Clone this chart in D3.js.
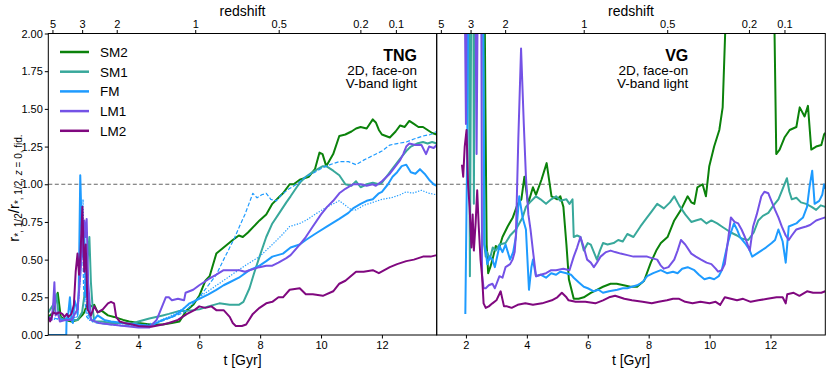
<!DOCTYPE html>
<html><head><meta charset="utf-8">
<script src="https://cdn.jsdelivr.net/npm/d3@7"></script>
<style>body{margin:0;background:#fff} text{font-family:"Liberation Sans",Arial,sans-serif}</style>
</head><body><svg id="c" width="830" height="372"></svg>
<script>
// ---------- data ----------
const xDomain=[1.04,13.8];
const yTicks=[0,0.25,0.5,0.75,1.0,1.25,1.5,1.75,2.0];
const tTicks=[2,4,6,8,10,12];
const zTicks=[5,3,2,1,0.5,0.2,0.1];
const zTickLabels=["5","3","2","1","0.5","0.2","0.1"];
const seriesNames=["SM2","SM1","FM","LM1","LM2"];
const seriesColors=["#0b820b","#38a89b","#1e9bff","#7452e6","#80087f"];
const panelNames=["TNG","VG"];

const tngSM2=[[1.04,0.12],[1.2,0.15],[1.35,0.28],[1.45,0.12],[1.6,0.1],[1.8,0.09],[2.0,0.1],[2.15,0.13],[2.22,0.15],[2.33,0.21],[2.44,0.19],[2.55,0.2],[2.66,0.15],[2.8,0.16],[3.0,0.13],[3.2,0.12],[3.5,0.1],[3.7,0.09],[4.0,0.08],[4.4,0.07],[4.8,0.07],[5.1,0.08],[5.35,0.09],[5.57,0.16],[5.8,0.2],[6.0,0.26],[6.2,0.36],[6.34,0.39],[6.56,0.54],[6.8,0.58],[7.1,0.63],[7.3,0.66],[7.43,0.65],[7.6,0.68],[7.98,0.76],[8.2,0.8],[8.4,0.87],[8.6,0.91],[8.75,0.94],[8.97,1.0],[9.1,1.0],[9.3,1.03],[9.45,1.04],[9.6,1.05],[9.8,1.1],[9.95,1.21],[10.05,1.2],[10.17,1.12],[10.4,1.2],[10.6,1.32],[10.8,1.33],[11.0,1.35],[11.15,1.37],[11.3,1.38],[11.5,1.37],[11.7,1.43],[11.8,1.41],[11.9,1.36],[12.0,1.33],[12.26,1.31],[12.45,1.35],[12.6,1.39],[12.75,1.38],[12.9,1.42],[13.05,1.4],[13.2,1.38],[13.35,1.38],[13.5,1.36],[13.65,1.34],[13.8,1.33]];
const tngSM1=[[1.04,0.15],[1.2,0.2],[1.31,0.27],[1.38,0.13],[1.5,0.1],[1.7,0.11],[1.9,0.1],[2.0,0.1],[2.15,0.15],[2.25,0.3],[2.33,0.5],[2.39,0.65],[2.44,0.35],[2.5,0.17],[2.55,0.09],[2.8,0.09],[3.1,0.08],[3.5,0.08],[3.7,0.07],[4.0,0.09],[4.36,0.11],[4.8,0.13],[5.0,0.14],[5.35,0.16],[5.6,0.16],[6.0,0.17],[6.3,0.19],[6.66,0.21],[7.0,0.2],[7.3,0.2],[7.45,0.22],[7.65,0.31],[7.8,0.41],[7.98,0.52],[8.2,0.65],[8.4,0.74],[8.6,0.8],[8.86,0.88],[9.0,0.92],[9.2,0.98],[9.35,1.02],[9.5,1.05],[9.65,1.07],[9.8,1.09],[10.06,1.12],[10.17,1.12],[10.4,1.09],[10.6,1.06],[10.8,1.0],[11.0,0.99],[11.15,1.02],[11.3,0.98],[11.5,1.0],[11.7,1.01],[11.9,1.0],[12.0,1.01],[12.3,1.09],[12.6,1.17],[12.8,1.22],[12.95,1.25],[13.15,1.27],[13.35,1.28],[13.5,1.27],[13.65,1.28],[13.8,1.27]];
const tngFM=[[1.04,0],[1.63,0],[1.64,0.1],[1.7,0.15],[1.75,0.25],[1.8,0.1],[1.85,0.08],[1.9,0.23],[1.95,0.2],[2.0,0.14],[2.04,0.3],[2.06,0.6],[2.09,1.06],[2.13,0.76],[2.16,0.52],[2.22,0.7],[2.27,0.25],[2.33,0.35],[2.38,0.13],[2.5,0.09],[2.66,0.13],[2.88,0.1],[3.1,0.09],[3.5,0.08],[4.0,0.07],[4.36,0.06],[4.5,0.07],[4.8,0.1],[5.1,0.12],[5.35,0.15],[5.68,0.21],[6.0,0.24],[6.3,0.27],[6.56,0.3],[6.8,0.33],[7.0,0.35],[7.3,0.38],[7.65,0.43],[7.98,0.46],[8.2,0.49],[8.4,0.52],[8.75,0.54],[9.0,0.58],[9.3,0.6],[9.5,0.63],[9.8,0.67],[10.2,0.72],[10.6,0.77],[10.9,0.81],[11.05,0.84],[11.3,0.87],[11.5,0.89],[11.7,0.9],[11.9,0.94],[12.0,0.95],[12.2,1.0],[12.35,1.05],[12.5,1.08],[12.65,1.12],[12.8,1.13],[12.95,1.08],[13.1,1.07],[13.25,1.1],[13.4,1.07],[13.55,1.03],[13.7,1.0],[13.8,0.99]];
const tngFMdash=[[1.04,0.12],[1.5,0.1],[2.0,0.12],[2.1,0.5],[2.15,0.8],[2.2,0.3],[2.3,0.12],[2.6,0.08],[3.0,0.07],[3.5,0.06],[4.0,0.06],[4.5,0.07],[5.0,0.11],[5.5,0.15],[6.0,0.25],[6.3,0.33],[6.56,0.4],[6.8,0.5],[7.0,0.58],[7.15,0.64],[7.32,0.72],[7.5,0.8],[7.65,0.88],[7.76,0.94],[7.9,0.91],[8.05,0.93],[8.2,0.94],[8.35,0.9],[8.53,0.89],[8.7,0.93],[8.95,0.97],[9.2,1.0],[9.5,1.05],[9.8,1.08],[10.06,1.11],[10.3,1.13],[10.6,1.15],[10.9,1.15],[11.15,1.13],[11.4,1.16],[11.7,1.19],[12.0,1.22],[12.26,1.26],[12.5,1.27],[12.8,1.28],[13.05,1.3],[13.35,1.32],[13.6,1.33],[13.8,1.35]];
const tngFMdot=[[1.04,0.1],[2.0,0.12],[2.1,0.4],[2.18,0.9],[2.25,0.3],[2.35,0.1],[3.0,0.07],[4.0,0.06],[4.5,0.08],[5.0,0.12],[5.5,0.18],[6.0,0.25],[6.5,0.32],[7.0,0.39],[7.5,0.46],[7.98,0.52],[8.4,0.6],[8.75,0.67],[8.97,0.72],[9.3,0.74],[9.5,0.76],[9.8,0.8],[10.2,0.85],[10.6,0.89],[10.8,0.86],[11.0,0.83],[11.15,0.83],[11.4,0.86],[11.7,0.88],[12.0,0.9],[12.3,0.91],[12.6,0.93],[12.8,0.95],[13.0,0.94],[13.3,0.96],[13.55,0.94],[13.8,0.93]];
const tngLM1=[[1.04,0.12],[1.15,0.1],[1.2,0.2],[1.24,0.35],[1.28,0.13],[1.35,0.15],[1.42,0.09],[1.6,0.1],[1.8,0.1],[2.0,0.17],[2.1,0.42],[2.16,0.6],[2.22,0.76],[2.26,0.65],[2.3,0.77],[2.35,0.35],[2.44,0.1],[2.7,0.08],[3.1,0.07],[3.54,0.06],[4.0,0.05],[4.36,0.05],[4.6,0.1],[4.8,0.2],[4.9,0.25],[5.0,0.25],[5.1,0.23],[5.3,0.24],[5.5,0.23],[5.55,0.28],[5.8,0.3],[6.0,0.33],[6.3,0.37],[6.56,0.4],[6.8,0.43],[7.1,0.43],[7.32,0.43],[7.5,0.42],[7.65,0.43],[7.98,0.45],[8.2,0.46],[8.4,0.46],[8.6,0.48],[8.86,0.51],[9.0,0.53],[9.3,0.6],[9.5,0.65],[9.73,0.72],[10.0,0.8],[10.2,0.85],[10.4,0.89],[10.6,0.94],[10.8,0.97],[11.05,1.0],[11.3,1.0],[11.5,0.99],[11.7,1.0],[11.8,0.99],[12.0,1.02],[12.26,1.07],[12.45,1.12],[12.6,1.16],[12.7,1.2],[12.8,1.25],[12.9,1.27],[13.1,1.26],[13.3,1.26],[13.45,1.2],[13.55,1.25],[13.7,1.24],[13.8,1.26]];
const tngLM2=[[1.04,0.12],[1.1,0.09],[1.2,0.15],[1.3,0.14],[1.4,0.15],[1.5,0.14],[1.57,0.12],[1.65,0.14],[1.7,0.12],[1.8,0.14],[1.88,0.2],[1.94,0.42],[2.0,0.54],[2.05,0.4],[2.1,0.55],[2.16,0.85],[2.22,0.42],[2.27,0.6],[2.33,0.17],[2.44,0.13],[2.55,0.19],[2.66,0.15],[2.83,0.17],[3.0,0.21],[3.1,0.22],[3.2,0.21],[3.27,0.12],[3.38,0.09],[3.54,0.08],[3.8,0.07],[4.0,0.06],[4.42,0.055],[4.8,0.07],[5.0,0.08],[5.3,0.1],[5.6,0.14],[5.84,0.165],[6.0,0.19],[6.2,0.18],[6.4,0.19],[6.56,0.165],[6.8,0.165],[7.0,0.12],[7.1,0.08],[7.2,0.06],[7.4,0.06],[7.54,0.07],[7.76,0.14],[7.98,0.18],[8.2,0.21],[8.4,0.22],[8.6,0.25],[8.75,0.25],[8.97,0.3],[9.3,0.31],[9.5,0.27],[9.73,0.27],[10.06,0.26],[10.4,0.29],[10.6,0.34],[10.8,0.36],[11.15,0.42],[11.4,0.42],[11.7,0.43],[11.9,0.41],[12.26,0.45],[12.5,0.47],[12.8,0.49],[13.05,0.5],[13.35,0.52],[13.6,0.52],[13.8,0.53]];

const vgSM2=[[1.98,3.0],[2.3,3.2],[2.6,2.6],[2.64,1.5],[2.68,0.6],[2.73,0.41],[2.8,0.45],[2.87,0.5],[2.98,0.59],[3.08,0.57],[3.2,0.65],[3.37,0.72],[3.54,0.78],[3.7,0.87],[3.82,0.9],[3.92,1.05],[4.04,0.87],[4.2,0.98],[4.3,0.93],[4.48,1.03],[4.65,1.14],[4.81,0.92],[5.0,0.9],[5.1,0.92],[5.2,0.85],[5.3,0.6],[5.38,0.37],[5.54,0.24],[5.7,0.24],[5.87,0.25],[6.1,0.28],[6.3,0.3],[6.5,0.32],[6.75,0.34],[6.95,0.34],[7.18,0.33],[7.4,0.32],[7.62,0.32],[7.85,0.36],[8.07,0.48],[8.25,0.56],[8.4,0.61],[8.62,0.65],[8.84,0.76],[9.06,0.83],[9.28,0.92],[9.4,0.88],[9.5,0.87],[9.6,0.98],[9.77,1.0],[9.88,0.92],[9.99,1.12],[10.15,1.25],[10.32,1.36],[10.43,1.51],[10.52,2.05],[10.7,2.6],[11.4,3.0],[12.05,2.6],[12.13,2.05],[12.19,1.2],[12.3,1.23],[12.46,1.31],[12.63,1.36],[12.85,1.38],[12.96,1.51],[13.12,1.45],[13.23,1.52],[13.34,1.23],[13.5,1.25],[13.67,1.26],[13.76,1.33],[13.8,1.34]];
const vgSM1=[[1.95,3.0],[2.1,2.0],[2.13,0.39],[2.18,2.5],[2.24,2.6],[2.26,0.87],[2.3,2.6],[2.45,3.0],[2.56,2.5],[2.6,0.6],[2.65,0.52],[2.7,0.55],[2.78,0.5],[2.88,0.58],[2.98,0.56],[3.1,0.6],[3.3,0.61],[3.45,0.66],[3.64,0.7],[3.75,0.74],[3.86,0.78],[3.97,0.85],[4.1,0.88],[4.3,0.92],[4.45,0.9],[4.63,0.87],[4.8,0.9],[4.96,0.92],[5.1,0.89],[5.3,0.9],[5.4,0.87],[5.5,0.9],[5.54,0.65],[5.65,0.66],[5.76,0.65],[5.87,0.56],[6.0,0.61],[6.1,0.6],[6.3,0.5],[6.4,0.56],[6.5,0.61],[6.65,0.6],[6.85,0.61],[7.0,0.63],[7.15,0.62],[7.3,0.67],[7.5,0.65],[7.73,0.72],[7.95,0.78],[8.1,0.82],[8.28,0.87],[8.5,0.84],[8.7,0.88],[8.84,0.92],[9.0,0.86],[9.2,0.8],[9.4,0.75],[9.55,0.76],[9.72,0.77],[9.9,0.74],[10.06,0.76],[10.25,0.74],[10.4,0.72],[10.55,0.7],[10.7,0.68],[10.9,0.66],[11.05,0.64],[11.27,0.63],[11.45,0.68],[11.6,0.76],[11.75,0.79],[11.93,0.81],[12.1,0.86],[12.26,0.9],[12.4,0.97],[12.54,1.04],[12.62,0.95],[12.7,0.9],[12.85,0.91],[13.0,0.88],[13.17,0.87],[13.35,0.85],[13.5,0.83],[13.65,0.86],[13.8,0.85]];
const vgFM=[[1.98,0.14],[2.04,1.2],[2.09,2.6],[2.3,3.0],[2.55,2.6],[2.61,0.6],[2.65,0.56],[2.7,0.47],[2.78,0.52],[2.87,0.5],[2.95,0.45],[3.1,0.59],[3.2,0.55],[3.3,0.6],[3.45,0.5],[3.55,0.55],[3.64,0.65],[3.75,0.92],[3.86,0.78],[3.97,0.7],[4.07,0.3],[4.15,0.45],[4.2,0.5],[4.3,0.39],[4.45,0.4],[4.63,0.38],[4.8,0.41],[4.96,0.4],[5.1,0.42],[5.3,0.41],[5.45,0.4],[5.54,0.38],[5.7,0.35],[5.87,0.32],[6.0,0.31],[6.2,0.29],[6.35,0.3],[6.5,0.28],[6.7,0.29],[6.97,0.3],[7.15,0.31],[7.3,0.31],[7.45,0.32],[7.62,0.33],[7.8,0.35],[7.95,0.39],[8.15,0.41],[8.4,0.43],[8.6,0.41],[8.8,0.42],[8.95,0.41],[9.1,0.44],[9.28,0.45],[9.5,0.43],[9.65,0.4],[9.83,0.37],[10.0,0.38],[10.15,0.37],[10.3,0.39],[10.4,0.43],[10.5,0.52],[10.6,0.61],[10.7,0.68],[10.8,0.74],[10.9,0.7],[11.0,0.65],[11.16,0.61],[11.3,0.57],[11.4,0.52],[11.55,0.54],[11.7,0.56],[11.85,0.58],[12.04,0.61],[12.15,0.63],[12.26,0.7],[12.4,0.62],[12.5,0.48],[12.55,0.6],[12.6,0.72],[12.85,0.74],[12.95,0.76],[13.07,0.78],[13.2,0.85],[13.28,0.98],[13.37,1.09],[13.45,0.87],[13.6,0.89],[13.7,0.93],[13.76,1.0],[13.8,0.97]];
const vgLM1=[[1.9,3.0],[1.95,2.5],[2.0,1.4],[2.03,2.6],[2.2,3.0],[2.3,2.6],[2.35,1.2],[2.4,2.6],[2.5,2.5],[2.53,0.4],[2.58,0.31],[2.65,0.31],[2.75,0.33],[2.87,0.34],[2.95,0.31],[3.1,0.39],[3.2,0.38],[3.3,0.45],[3.45,0.47],[3.53,0.5],[3.6,0.55],[3.64,0.66],[3.72,1.3],[3.81,1.9],[3.9,1.4],[3.97,1.05],[4.05,0.8],[4.12,0.7],[4.2,0.56],[4.3,0.39],[4.45,0.4],[4.63,0.41],[4.8,0.43],[4.96,0.43],[5.2,0.44],[5.4,0.43],[5.54,0.52],[5.65,0.58],[5.76,0.65],[5.87,0.58],[5.98,0.5],[6.1,0.48],[6.2,0.45],[6.3,0.48],[6.42,0.52],[6.6,0.55],[6.75,0.56],[6.9,0.55],[7.08,0.54],[7.3,0.53],[7.5,0.52],[7.75,0.52],[7.95,0.52],[8.1,0.51],[8.28,0.5],[8.4,0.46],[8.5,0.44],[8.65,0.45],[8.84,0.5],[8.95,0.56],[9.06,0.63],[9.2,0.6],[9.4,0.54],[9.55,0.52],[9.72,0.5],[9.9,0.48],[10.06,0.47],[10.2,0.44],[10.28,0.42],[10.4,0.43],[10.5,0.47],[10.6,0.62],[10.7,0.78],[10.82,0.75],[10.94,0.74],[11.05,0.7],[11.16,0.65],[11.32,0.56],[11.43,0.72],[11.55,0.8],[11.7,0.92],[11.8,0.95],[11.93,0.94],[12.05,0.88],[12.15,0.83],[12.26,0.78],[12.37,0.72],[12.5,0.66],[12.6,0.63],[12.7,0.66],[12.85,0.7],[13.0,0.71],[13.17,0.72],[13.3,0.73],[13.5,0.76],[13.65,0.77],[13.8,0.78]];
const vgLM2=[[1.87,1.13],[1.91,1.05],[1.96,1.25],[2.02,1.36],[2.07,1.0],[2.12,0.85],[2.18,0.58],[2.22,0.8],[2.26,0.56],[2.32,0.75],[2.37,0.96],[2.42,0.72],[2.48,0.5],[2.53,0.39],[2.58,0.21],[2.65,0.18],[2.75,0.19],[2.87,0.21],[3.0,0.23],[3.14,0.29],[3.25,0.19],[3.35,0.19],[3.5,0.18],[3.7,0.2],[3.95,0.21],[4.2,0.2],[4.5,0.21],[4.82,0.23],[5.0,0.25],[5.15,0.28],[5.3,0.25],[5.37,0.23],[5.6,0.22],[5.92,0.22],[6.25,0.21],[6.5,0.23],[6.7,0.25],[6.9,0.26],[7.2,0.24],[7.45,0.23],[7.8,0.22],[8.1,0.21],[8.33,0.22],[8.6,0.23],[8.8,0.24],[9.0,0.24],[9.2,0.22],[9.44,0.21],[9.7,0.22],[10.0,0.21],[10.2,0.22],[10.35,0.2],[10.5,0.25],[10.7,0.24],[10.9,0.23],[11.1,0.24],[11.35,0.22],[11.6,0.23],[11.9,0.24],[12.2,0.25],[12.4,0.25],[12.5,0.21],[12.55,0.27],[12.76,0.28],[12.95,0.26],[13.2,0.29],[13.4,0.28],[13.67,0.28],[13.8,0.29]];

// ---------- drawing ----------
function tOfZ(z){ // flat LCDM (Planck15) cosmic time in Gyr
  const hubbleTime=977.8/67.74, OL=0.6911, OM=0.3089;
  return 2/(3*Math.sqrt(OL))*hubbleTime*Math.asinh(Math.sqrt(OL/OM)*Math.pow(1+z,-1.5));
}
const svg=d3.select("#c");
svg.append("rect").attr("width",830).attr("height",372).attr("fill","#fff");
const yTop=33.5, yBot=335;
const y=d3.scaleLinear().domain([0,2]).range([yBot,yTop]);

const panels=[
  {x0:48.3,x1:436.7,series:[tngSM2,tngSM1,tngFM,tngLM1,tngLM2],dash:tngFMdash,dot:tngFMdot,labelX:417},
  {x0:436.7,x1:825.3,series:[vgSM2,vgSM1,vgFM,vgLM1,vgLM2],dash:null,dot:null,labelX:688.3}
];

panels.forEach((p,pi)=>{
  const x=d3.scaleLinear().domain(xDomain).range([p.x0,p.x1]);
  const g=svg.append("g");
  const cid="clip"+pi;
  svg.append("clipPath").attr("id",cid).append("rect")
    .attr("x",p.x0).attr("y",yTop).attr("width",p.x1-p.x0).attr("height",yBot-yTop);
  const plot=g.append("g").attr("clip-path",`url(#${cid})`);
  plot.append("line").attr("x1",p.x0).attr("x2",p.x1).attr("y1",y(1)).attr("y2",y(1))
    .attr("stroke","#666").attr("stroke-width",1).attr("stroke-dasharray","4,2.5");
  const line=d3.line().x(d=>x(d[0])).y(d=>y(d[1]));
  const draw=(data,color,w,dash)=>{
    plot.append("path").datum(data).attr("d",line).attr("fill","none")
      .attr("stroke",color).attr("stroke-width",w).attr("stroke-linejoin","round")
      .attr("stroke-dasharray",dash||null);
  };
  draw(p.series[0],seriesColors[0],2);
  draw(p.series[1],seriesColors[1],2);
  draw(p.series[2],seriesColors[2],2);
  if(p.dash) draw(p.dash,seriesColors[2],1.2,"4,2");
  if(p.dot) draw(p.dot,seriesColors[2],1.2,"1.3,1.5");
  draw(p.series[3],seriesColors[3],2);
  draw(p.series[4],seriesColors[4],2);

  g.append("rect").attr("x",p.x0).attr("y",yTop).attr("width",p.x1-p.x0).attr("height",yBot-yTop)
    .attr("fill","none").attr("stroke","#000").attr("stroke-width",1);

  const ax=g.append("g").attr("transform",`translate(0,${yBot})`)
    .call(d3.axisBottom(x).tickValues(tTicks).tickSize(3.5).tickPadding(3).tickFormat(d3.format("d")));
  const at=g.append("g").attr("transform",`translate(0,${yTop})`)
    .call(d3.axisTop(x).tickValues(zTicks.map(tOfZ)).tickSize(3.5).tickPadding(2.5).tickFormat((d,i)=>zTickLabels[i]));
  [ax,at].forEach(a=>{a.select(".domain").remove();a.selectAll("line").attr("stroke","#000");
    a.selectAll("text").attr("font-size",11).attr("fill","#000").attr("font-family",'"Liberation Sans",Arial,sans-serif');});
  if(pi===0){
    const ay=g.append("g").attr("transform",`translate(${p.x0},0)`)
      .call(d3.axisLeft(y).tickValues(yTicks).tickSize(3.5).tickPadding(2).tickFormat(d3.format(".2f")));
    ay.select(".domain").remove(); ay.selectAll("line").attr("stroke","#000");
    ay.selectAll("text").attr("font-size",11).attr("fill","#000").attr("font-family",'"Liberation Sans",Arial,sans-serif');
  }
  const cx=(p.x0+p.x1)/2;
  g.append("text").attr("x",cx).attr("y",15.5).attr("text-anchor","middle").attr("font-size",14).text("redshift");
  g.append("text").attr("x",cx).attr("y",364.5).attr("text-anchor","middle").attr("font-size",14).text("t [Gyr]");
  g.append("text").attr("x",p.labelX).attr("y",61).attr("text-anchor","end").attr("font-size",16).attr("font-weight","bold").text(panelNames[pi]);
  g.append("text").attr("x",p.labelX).attr("y",74.5).attr("text-anchor","end").attr("font-size",13.5).text("2D, face-on");
  g.append("text").attr("x",p.labelX).attr("y",88).attr("text-anchor","end").attr("font-size",13.5).text("V-band light");
});

// legend
const leg=svg.append("g");
seriesNames.forEach((n,i)=>{
  const yy=52+i*19.7;
  leg.append("line").attr("x1",60).attr("x2",89).attr("y1",yy).attr("y2",yy)
    .attr("stroke",seriesColors[i]).attr("stroke-width",2.5);
  leg.append("text").attr("x",100).attr("y",yy+5).attr("font-size",13.5).text(n);
});

// y label
const yl=svg.append("text").attr("transform","translate(19,188) rotate(-90)").attr("text-anchor","middle").attr("font-size",15);
yl.append("tspan").text("r");
yl.append("tspan").attr("font-size",10).attr("dy",3).text("*, 1/2");
yl.append("tspan").attr("dy",-3).text("/r");
yl.append("tspan").attr("font-size",10).attr("dy",3).text("*, 1/2, ");
yl.append("tspan").attr("font-size",10).attr("font-style","italic").text("z");
yl.append("tspan").attr("font-size",10).text(" = 0, fid.");
</script></body></html>
